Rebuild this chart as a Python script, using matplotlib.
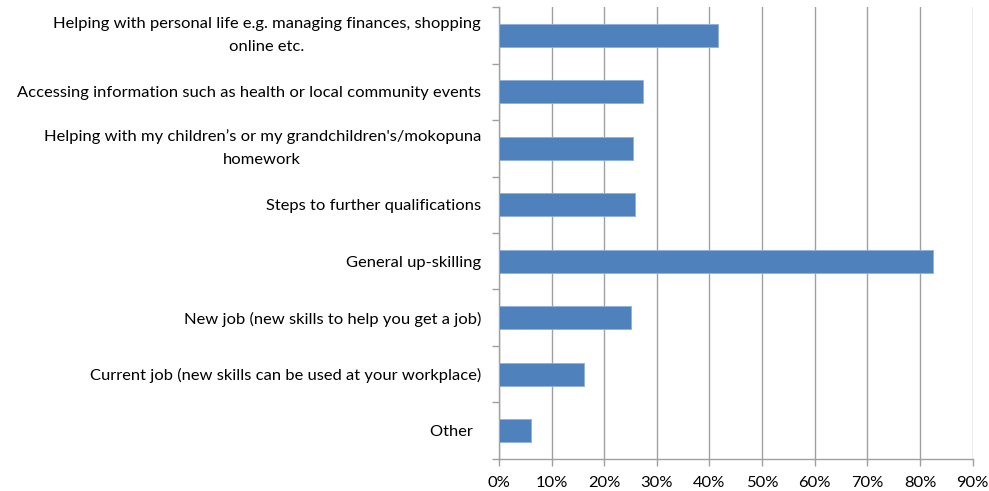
import matplotlib.pyplot as plt
from matplotlib.ticker import FixedLocator, PercentFormatter

plt.rcParams['font.family'] = ['Lato', 'DejaVu Sans']

categories = [
    'Helping with personal life e.g. managing finances, shopping\nonline etc.',
    'Accessing information such as health or local community events',
    "Helping with my children\u2019s or my grandchildren's/mokopuna\nhomework",
    'Steps to further qualifications',
    'General up-skilling',
    'New job (new skills to help you get a job)',
    'Current job (new skills can be used at your workplace)',
    'Other  ',
]
values = [41.6, 27.4, 25.4, 25.9, 82.4, 25.1, 16.2, 6.0]
x_ticks = [0, 10, 20, 30, 40, 50, 60, 70, 80, 90]

fig = plt.figure(figsize=(9.89, 4.91), dpi=100)
ax = fig.add_axes([0.5045, 0.0652, 0.479, 0.9205])

pos = list(range(len(categories)))
ax.barh(pos, values, height=0.4, color='#4F81BD', edgecolor='#8DB0DA',
        linewidth=0.6, zorder=3)

ax.set_ylim(len(categories) - 0.5, -0.5)
ax.set_xlim(0, 90)
ax.set_xticks(x_ticks)
ax.xaxis.set_major_formatter(PercentFormatter(decimals=0))
ax.set_yticks(pos)
ax.set_yticklabels(categories, multialignment='center', linespacing=1.8)
# two-line labels sit centred on the bar rather than on the first baseline
for lbl in ax.get_yticklabels():
    if '\n' in lbl.get_text():
        lbl.set_verticalalignment('center')
ax.yaxis.set_minor_locator(FixedLocator([p - 0.5 for p in pos] + [len(pos) - 0.5]))

ax.grid(axis='x', color='#A0A0A0', linewidth=1.0, zorder=0)
for side in ('top', 'right'):
    ax.spines[side].set_visible(False)
for side in ('left', 'bottom'):
    ax.spines[side].set_color('#A0A0A0')
    ax.spines[side].set_linewidth(1.0)

ax.tick_params(axis='y', which='major', length=0, pad=13, labelsize=11.85,
               colors='black')
ax.tick_params(axis='y', which='minor', length=5, width=1, color='#A0A0A0')
ax.tick_params(axis='x', length=5, width=1, color='#A0A0A0', pad=7,
               labelsize=11.85, labelcolor='black')

fig.savefig('out.png', dpi=100)
